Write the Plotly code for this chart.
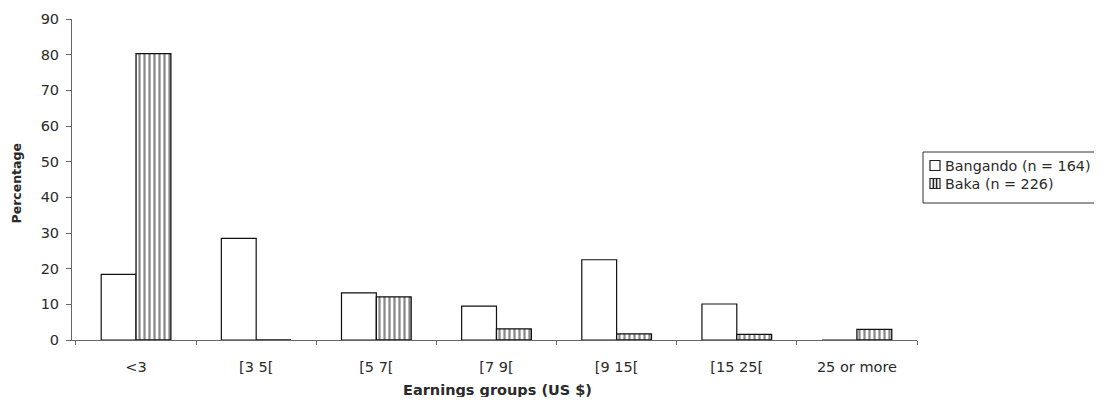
import plotly.graph_objects as go

categories = ["<3", "[3 5[", "[5 7[", "[7 9[", "[9 15[", "[15 25[", "25 or more"]
bangando = [18.4, 28.5, 13.2, 9.5, 22.5, 10.1, 0]
baka = [80.3, 0, 12.1, 3.1, 1.7, 1.6, 3.0]
series_names = ["Bangando (n = 164)", "Baka (n = 226)"]

font_family = "DejaVu Sans, Liberation Sans, Arial, sans-serif"
txt = "#2a2a2a"
axis_col = "#666666"

# page body has an 8px margin, so the figure is drawn offset by 8px
OFF = 8
W, H = 1102 - 2 * OFF, 405 - 2 * OFF
L, T = 72 - OFF, 19 - OFF
R = W - (917 - OFF)
B = H - (340 - OFF)
PW, PH = W - L - R, H - T - B


def px(p):
    return (p - OFF - L) / PW


def py(p):
    return (H - B - (p - OFF)) / PH


fig = go.Figure()
fig.add_trace(go.Bar(
    x=categories, y=bangando, name=series_names[0],
    marker=dict(color="white", line=dict(color="#111111", width=1.2)),
))
fig.add_trace(go.Bar(
    x=categories, y=baka, name=series_names[1],
    marker=dict(color="white", line=dict(color="#111111", width=1.3),
                pattern=dict(shape="|", fgcolor="#111111", bgcolor="white",
                             size=5, solidity=0.45, fillmode="overlay")),
))

shapes = []
annotations = []

# legend box (drawn manually to match the compact original)
shapes.append(dict(type="rect", xref="paper", yref="paper",
                   x0=px(923), x1=px(1110), y0=py(203), y1=py(152),
                   line=dict(color="#333333", width=1), fillcolor="white", layer="above"))
# Bangando symbol
shapes.append(dict(type="rect", xref="paper", yref="paper",
                   x0=px(930), x1=px(940), y0=py(170.5), y1=py(160.5),
                   line=dict(color="#222222", width=1.2), fillcolor="white", layer="above"))
# Baka symbol
shapes.append(dict(type="rect", xref="paper", yref="paper",
                   x0=px(930), x1=px(940), y0=py(188.5), y1=py(178.5),
                   line=dict(color="#222222", width=1.2), fillcolor="white", layer="above"))
for lx in (933.4, 936.6):
    shapes.append(dict(type="line", xref="paper", yref="paper",
                       x0=px(lx), x1=px(lx), y0=py(188.5), y1=py(178.5),
                       line=dict(color="#222222", width=1.6), layer="above"))
for name, yc in zip(series_names, (165.5, 183.5)):
    annotations.append(dict(text=name, xref="paper", yref="paper",
                            x=px(943), y=py(yc), xanchor="left", yanchor="middle",
                            showarrow=False, font=dict(size=14.3, color=txt)))

# axis titles
annotations.append(dict(text="<b>Earnings groups (US $)</b>", xref="paper", yref="paper",
                        x=px(497.5), y=py(390), xanchor="center", yanchor="middle",
                        showarrow=False, font=dict(size=14.5, color=txt)))
annotations.append(dict(text="<b>Percentage</b>", xref="paper", yref="paper",
                        x=px(16), y=py(183.5), xanchor="center", yanchor="middle",
                        textangle=-90, showarrow=False, font=dict(size=12.5, color=txt)))

fig.update_layout(
    width=W, height=H,
    margin=dict(l=L, r=R, t=T, b=B),
    paper_bgcolor="white", plot_bgcolor="white",
    barmode="group", bargap=0.42, bargroupgap=0,
    font=dict(family=font_family, size=15, color=txt),
    showlegend=False,
    shapes=shapes,
    annotations=annotations,
    xaxis=dict(
        range=[-0.533, 6.5],
        showline=True, linecolor=axis_col, linewidth=1,
        ticks="outside", ticklen=4, tickcolor=axis_col,
        tickson="boundaries", showgrid=False, automargin=False,
        ticklabelstandoff=14,
        tickfont=dict(size=14.5, color=txt),
    ),
    yaxis=dict(
        range=[0, 90], dtick=10,
        showline=True, linecolor=axis_col, linewidth=1,
        ticks="outside", ticklen=5, tickcolor=axis_col,
        showgrid=False, zeroline=False, automargin=False,
        ticklabelstandoff=4,
        tickfont=dict(size=14.5, color=txt),
    ),
)

fig.write_html("out.html")
